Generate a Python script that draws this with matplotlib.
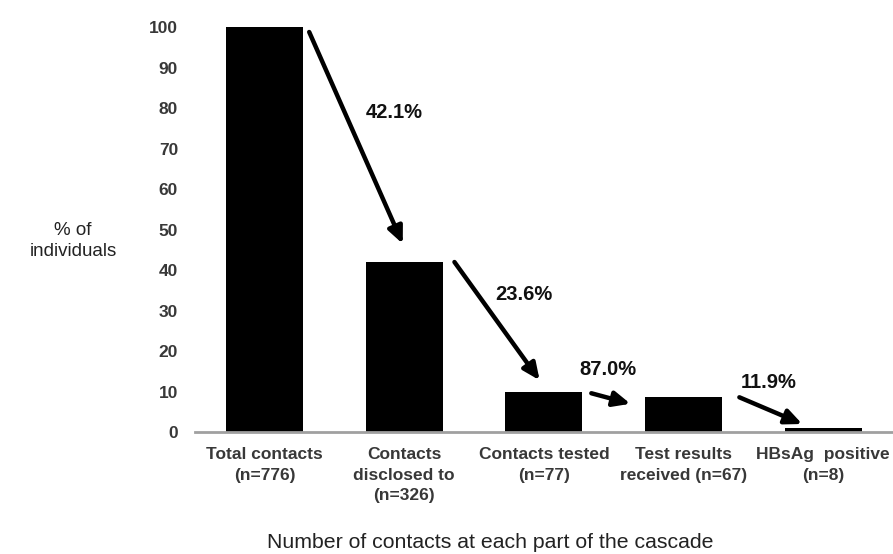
import matplotlib
matplotlib.use("Agg")
import matplotlib.pyplot as plt

categories = ["Total contacts\n(n=776)", "Contacts\ndisclosed to\n(n=326)", "Contacts tested\n(n=77)",
              "Test results\nreceived (n=67)", "HBsAg  positive\n(n=8)"]
values = [100, 42.0, 9.9, 8.6, 1.0]
step_labels = ["42.1%", "23.6%", "87.0%", "11.9%"]
yticks = [0, 10, 20, 30, 40, 50, 60, 70, 80, 90, 100]

plt.rcParams['font.family'] = ['Liberation Sans', 'DejaVu Sans']

fig = plt.figure(figsize=(8.93, 5.54), dpi=100)
ax = fig.add_axes([0.218, 0.220, 0.782, 0.731])
x = list(range(len(categories)))
ax.bar(x, values, width=0.55, color='black')
ax.set_xlim(-0.5, 4.5)
ax.set_ylim(0, 100)
ax.set_yticks(yticks)
ax.set_xticks(x)
ax.set_xticklabels(categories, fontsize=12.5, fontweight='bold', color='#383838', linespacing=1.45)
ax.set_yticklabels([str(t) for t in yticks], fontsize=12.5, fontweight='bold', color='#383838')
for s in ['top', 'right', 'left']:
    ax.spines[s].set_visible(False)
ax.spines['bottom'].set_color('#a0a0a0')
ax.spines['bottom'].set_linewidth(2)
ax.tick_params(axis='both', length=0)
ax.tick_params(axis='y', pad=12)
ax.tick_params(axis='x', pad=11)

arrows = [((0.32, 98.8), (0.99, 46.5)),
          ((1.36, 42.0), (1.97, 12.8)),
          ((2.34, 9.6), (2.62, 7.0)),
          ((3.40, 8.6), (3.85, 2.0))]
label_pos = [(0.93, 79), (1.86, 34), (2.46, 15.5), (3.61, 12.3)]
for (s, e), lab, lp in zip(arrows, step_labels, label_pos):
    ax.annotate("", xy=e, xytext=s,
                arrowprops=dict(arrowstyle='-|>,head_length=1.0,head_width=0.45', color='black', lw=3.2,
                                shrinkA=0, shrinkB=0))
    ax.text(lp[0], lp[1], lab, fontsize=14.5, fontweight='bold', ha='center', va='center', color='#111111')

fig.text(0.082, 0.565, "% of\nindividuals", fontsize=13.5, ha='center', va='center', color='#222222',
         linespacing=1.3)
fig.text(0.549, 0.020, "Number of contacts at each part of the cascade", fontsize=15.3, ha='center',
         va='center', color='#222222')

fig.savefig("out.png", dpi=100)
